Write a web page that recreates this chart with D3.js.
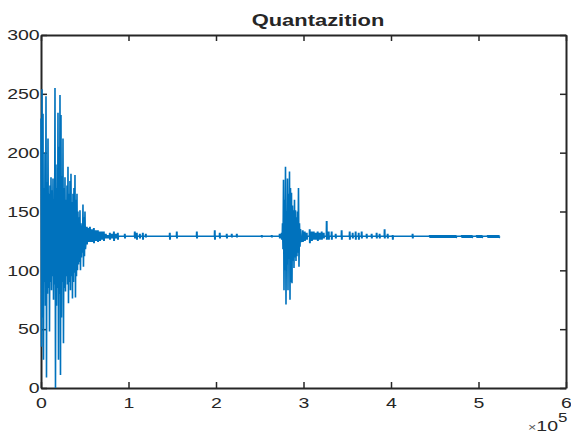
<!DOCTYPE html>
<html>
<head>
<meta charset="utf-8">
<script src="https://cdnjs.cloudflare.com/ajax/libs/d3/7.8.5/d3.min.js"></script>
<style>
body { margin: 0; background: #fff; }
svg { display: block; }
text { font-family: "Liberation Sans", Arial, sans-serif; fill: #262626; }
</style>
</head>
<body>
<svg></svg>
<script>
// tick labels
let xTicks = [0, 100000, 200000, 300000, 400000, 500000, 600000]
let yTicks = [0, 50, 100, 150, 200, 250, 300]

// quantized level the signal rests on
let baseLevel = 129
let lastSample = 524200

// first loud part, one column every burstStep samples
let burstStep = 1142
let burstOneStart = 0
let burstOneHi = [229, 254, 233, 170, 200, 248, 175, 212, 165, 172, 179, 168, 178, 160, 255, 190, 170, 234, 205, 249, 232, 180, 212, 170, 179, 160, 172, 188, 165, 176, 182, 158, 165, 170, 181, 160, 165, 150, 145, 151, 140, 138, 156, 145, 150]
let burstOneLo = [35, 60, 24, 90, 70, 9, 80, 85, 48, 90, 83, 95, 75, 88, 0, 70, 85, 24, 80, 11, 60, 90, 38, 85, 82, 95, 88, 72, 90, 83, 95, 76, 90, 98, 77, 95, 100, 105, 107, 100, 111, 115, 103, 112, 118]

// second loud part
let burstTwoStart = 276000
let burstTwoHi = [140, 177, 160, 188, 150, 178, 165, 184, 170, 166, 155, 151, 160, 151, 145, 150, 170, 140, 135]
let burstTwoLo = [118, 83, 100, 71, 105, 83, 110, 75, 90, 89, 108, 102, 111, 108, 112, 115, 103, 120, 124]

// small wiggles on the quiet parts
let blipIdx = [52500, 53700, 54800, 56000, 57100, 58200, 59400, 60500, 61700, 62800, 64000, 65100, 66200, 67400, 68500, 69700, 70800, 71900, 73100, 74200, 76500, 78800, 81100, 83400, 85600, 87900, 95900, 107300, 109600, 113100, 116500, 119900, 147300, 155300, 178200, 198700, 204400, 212400, 218100, 223900, 252400, 263800, 272900, 275200,
    299200, 301500, 303800, 307200, 309500, 311800, 314100, 316300, 318600, 320900, 323200, 326600, 328900, 332300, 336900, 343700, 352900, 356300, 359700, 363200, 366600, 372300, 378000, 383700, 387100, 392800, 396300, 402000, 424800]
let blipHi = [137, 136, 134, 137, 133, 135, 134, 136, 133, 134, 132, 134, 132, 133, 132, 133, 131, 133, 131, 131, 130, 132, 131, 133, 131, 132, 131, 133, 132, 131, 132, 131, 132, 133, 133, 134, 132, 131, 131, 131, 130, 130, 131, 132,
    134, 133, 132, 135, 133, 133, 132, 133, 132, 133, 132, 142, 133, 133, 131, 134, 133, 132, 133, 132, 133, 131, 131, 132, 131, 135, 131, 130, 131]
let blipLo = [122, 124, 125, 124, 126, 124, 125, 123, 126, 125, 126, 124, 127, 125, 126, 126, 127, 125, 127, 127, 127, 126, 127, 125, 127, 126, 127, 127, 126, 127, 126, 128, 126, 127, 127, 126, 127, 127, 128, 128, 128, 128, 127, 126,
    124, 125, 126, 123, 125, 126, 126, 125, 126, 126, 127, 126, 126, 126, 127, 126, 126, 127, 126, 126, 127, 127, 127, 127, 127, 127, 127, 126, 127]

// stretches of faint noise near the end
let bandStart = [444200, 480800, 497900, 510500]
let bandEnd = [475000, 493300, 504700, 524100]
let bandHi = [130, 130, 130, 130]
let bandLo = [127.5, 127.5, 127.5, 127.5]

let width = 571
let height = 435
let plotLeft = 41
let plotRight = 566
let plotTop = 35
let plotBottom = 388
let stretch = 1.3

let svg = d3.select('svg')
svg.attr('width', width).attr('height', height)

let xScale = d3.scaleLinear().domain([0, 600000]).range([plotLeft, plotRight])
let yScale = d3.scaleLinear().domain([0, 300]).range([plotBottom, plotTop])

let points = []

let addBlip = (i) => {
    let s = blipIdx[i]
    points.push([s - 500, baseLevel])
    points.push([s - 300, blipHi[i]])
    points.push([s - 100, blipLo[i]])
    points.push([s + 100, blipHi[i]])
    points.push([s + 300, blipLo[i]])
    points.push([s + 500, baseLevel])
}

let addBand = (i) => {
    points.push([bandStart[i] - 200, baseLevel])
    for (let s = bandStart[i]; s < bandEnd[i]; s += burstStep) {
        points.push([s, bandHi[i]])
        points.push([s + burstStep / 2, bandLo[i]])
    }
    points.push([bandEnd[i], baseLevel])
}

let buildPoints = () => {
    burstOneHi.forEach((hi, i) => {
        let s = burstOneStart + i * burstStep
        points.push([s, hi])
        points.push([s + burstStep / 2, burstOneLo[i]])
    })
    blipIdx.forEach((s, i) => {
        if (s < burstTwoStart) addBlip(i)
    })
    burstTwoHi.forEach((hi, i) => {
        let s = burstTwoStart + i * burstStep
        points.push([s, hi])
        points.push([s + burstStep / 2, burstTwoLo[i]])
    })
    blipIdx.forEach((s, i) => {
        if (s > burstTwoStart) addBlip(i)
    })
    bandStart.forEach((s, i) => addBand(i))
    points.push([lastSample, baseLevel])
}

let styleAxis = (g) => {
    g.select('.domain').attr('stroke', '#262626').attr('stroke-width', 2)
    g.selectAll('.tick line').attr('stroke', '#262626').attr('stroke-width', 1.5)
    g.selectAll('text')
        .style('font-size', '15px')
        .attr('fill', '#262626')
}

let drawAxes = () => {
    let xAxis = d3.axisBottom(xScale).tickValues(xTicks).tickSize(-6).tickSizeOuter(0).tickPadding(9)
        .tickFormat((d) => d / 100000)
    let gx = svg.append('g')
        .attr('transform', 'translate(0, ' + plotBottom + ')')
        .call(xAxis)
    styleAxis(gx)
    gx.selectAll('text').attr('transform', 'scale(' + stretch + ',1)')

    let topAxis = d3.axisTop(xScale).tickValues(xTicks).tickSize(-6).tickSizeOuter(0).tickFormat('')
    styleAxis(svg.append('g').attr('transform', 'translate(0, ' + plotTop + ')').call(topAxis))

    let yAxis = d3.axisLeft(yScale).tickValues(yTicks).tickSize(-6).tickSizeOuter(0).tickPadding(1)
    let gy = svg.append('g')
        .attr('transform', 'translate(' + plotLeft + ', 0)')
        .call(yAxis)
    styleAxis(gy)
    gy.selectAll('text').attr('transform', 'scale(' + stretch + ',1)')

    let rightAxis = d3.axisRight(yScale).tickValues(yTicks).tickSize(-6).tickSizeOuter(0).tickFormat('')
    styleAxis(svg.append('g').attr('transform', 'translate(' + plotRight + ', 0)').call(rightAxis))
}

let drawLine = () => {
    let line = d3.line()
        .x((d) => xScale(d[0]))
        .y((d) => yScale(d[1]))
    svg.append('path')
        .datum(points)
        .attr('d', line)
        .attr('fill', 'none')
        .attr('stroke', '#0072BD')
        .attr('stroke-width', 1.6)
        .attr('stroke-linejoin', 'bevel')
}

let drawTexts = () => {
    svg.append('text')
        .attr('transform', 'translate(318, 26) scale(1.37,1)')
        .attr('text-anchor', 'middle')
        .style('font-size', '16px')
        .style('font-weight', 'bold')
        .attr('fill', '#000')
        .text('Quantazition')

    let ex = svg.append('text')
        .attr('transform', 'translate(528, 431) scale(' + stretch + ',1)')
        .style('font-size', '15px')
    ex.append('tspan').style('font-size', '11px').attr('fill', '#555').text('×')
    ex.append('tspan').text('10')

    svg.append('text')
        .attr('transform', 'translate(558, 422) scale(' + stretch + ',1)')
        .style('font-size', '13px')
        .text('5')
}

buildPoints()
drawAxes()
drawLine()
drawTexts()
</script>
</body>
</html>
